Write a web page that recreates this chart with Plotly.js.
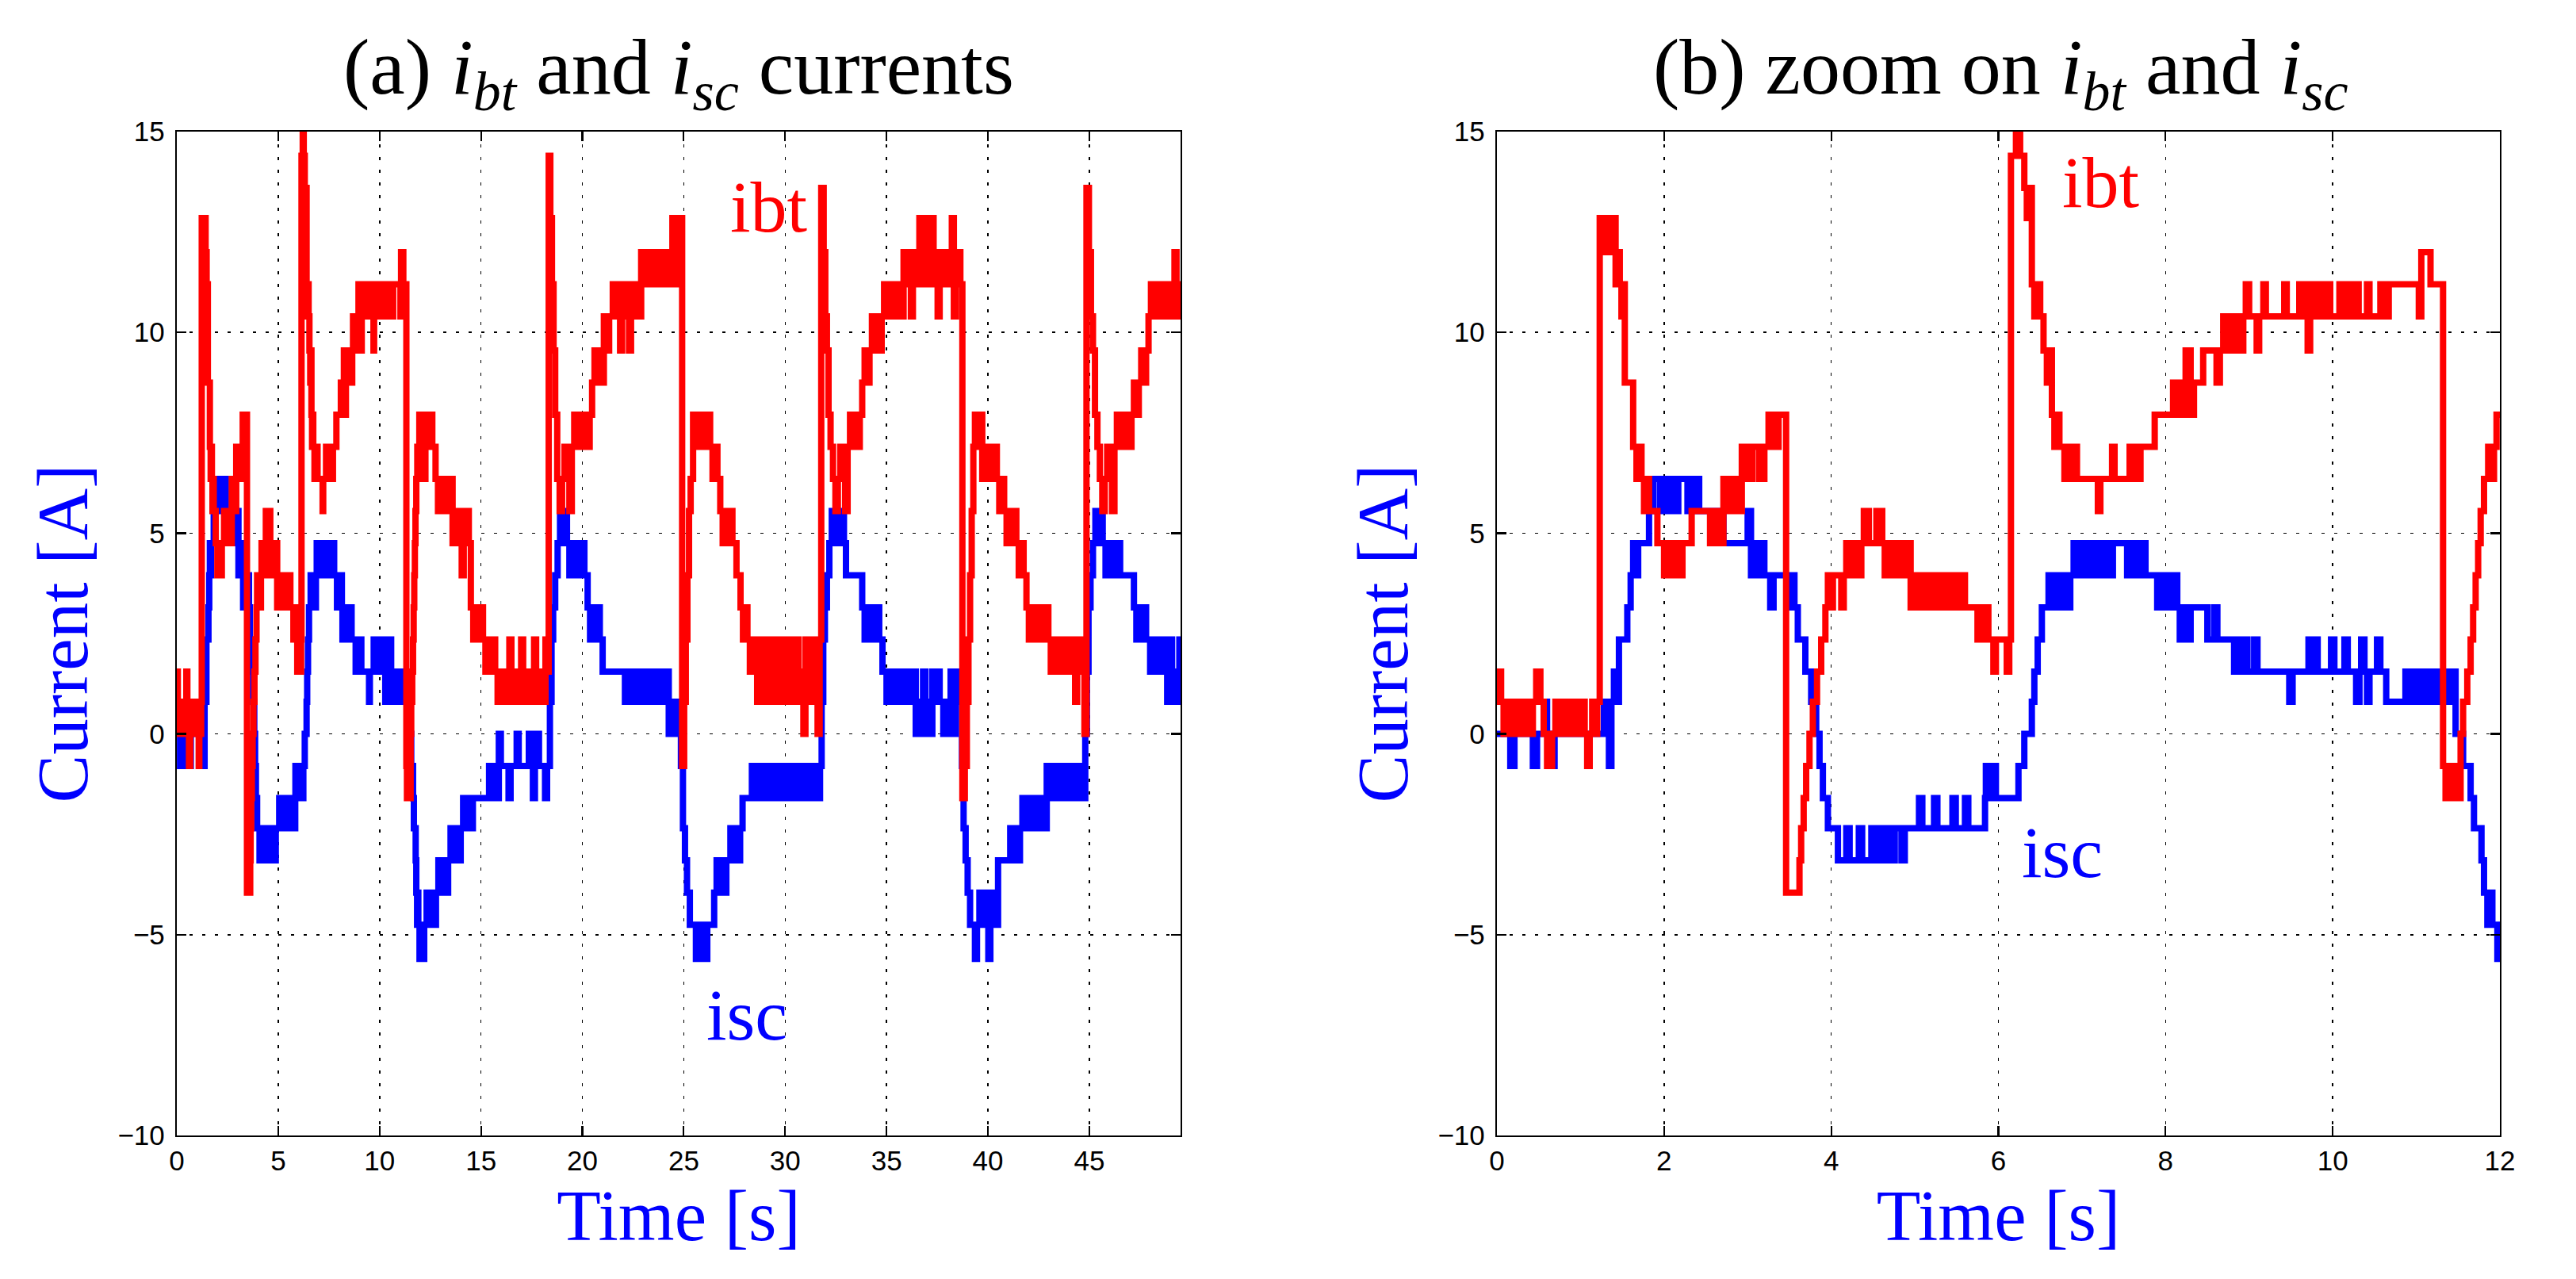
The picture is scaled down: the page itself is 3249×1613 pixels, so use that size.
<!DOCTYPE html>
<html><head><meta charset="utf-8">
<script src="https://cdn.plot.ly/plotly-3.0.1.min.js"></script>
<style>html,body{margin:0;padding:0;background:#fff}#chart{width:3249px;height:1613px}</style>
</head><body><div id="chart"></div>
<script>
// battery current ibt: [time s, current A] change points
const ibtSteps = [
[0,0.8],[0.02,1.55],[0.05,0.8],[0.08,0],[0.11,0.8],[0.15,0],[0.19,0.8],[0.23,0],[0.27,0.8],[0.31,0],[0.35,0.8],[0.39,0],[0.43,0.8],[0.47,1.55],[0.52,0.8],[0.56,0],[0.6,-0.8],[0.66,0],[0.7,0.8],[0.73,0],[0.77,0.8],[0.81,0],[0.85,0.8],[0.89,0],[0.93,0.8],[0.97,0],[1.01,0.8],[1.05,0],[1.08,-0.8],[1.11,0],[1.14,0.8],[1.17,0],[1.2,0.8],
[1.23,12.85],[1.27,12.0],[1.3,12.85],[1.34,12.0],[1.37,12.85],[1.42,11.2],[1.44,12.0],[1.47,11.2],[1.49,10.4],[1.51,11.2],[1.53,8.75],[1.63,7.15],[1.67,6.35],[1.7,7.15],[1.73,6.35],[1.76,5.55],[1.79,6.35],[1.82,5.55],[1.92,4.75],[2.0,3.95],[2.03,4.75],[2.06,3.95],[2.09,4.75],[2.12,3.95],[2.15,4.75],[2.18,3.95],[2.22,4.75],[2.33,5.55],[2.55,4.75],[2.58,5.55],[2.61,4.75],[2.64,5.55],[2.67,4.75],[2.71,6.35],[2.75,5.55],[2.79,6.35],[2.83,5.55],[2.87,6.35],[2.9,5.55],[2.93,7.15],[2.96,6.35],[3.0,7.15],[3.03,6.35],[3.06,7.15],[3.14,6.35],[3.2,7.15],[3.25,7.95],[3.28,7.15],[3.31,7.95],[3.34,7.15],[3.37,7.95],
[3.46,-3.95],[3.62,-3.15],[3.64,-2.35],[3.67,-1.6],[3.7,-0.8],[3.74,0],[3.78,0.8],[3.83,1.55],[3.88,2.35],[3.93,3.15],[3.96,3.95],[3.99,3.15],[4.02,3.95],[4.12,3.15],[4.15,3.95],[4.18,4.75],[4.21,3.95],[4.24,4.75],[4.27,3.95],[4.3,4.75],[4.33,3.95],[4.36,4.75],[4.39,5.55],[4.45,4.75],[4.54,5.55],[4.61,4.75],[4.64,3.95],[4.67,4.75],[4.71,3.95],[4.74,4.75],[4.78,3.95],[4.82,4.75],[4.87,3.95],[4.91,4.75],[4.95,3.15],[4.99,3.95],[5.03,3.15],[5.07,3.95],[5.11,3.15],[5.15,3.95],[5.19,3.15],[5.23,3.95],[5.27,3.15],[5.31,3.95],[5.35,3.15],[5.39,3.95],[5.43,3.15],[5.47,3.95],[5.51,3.15],[5.55,3.95],[5.6,3.15],[5.75,2.35],[5.78,3.15],[5.82,2.35],[5.85,3.15],[5.88,2.35],[5.94,1.55],[5.97,2.35],[6.1,1.55],[6.13,2.35],
[6.15,14.4],[6.21,15.0],[6.26,14.4],[6.31,13.6],[6.34,12.85],[6.37,13.6],[6.4,11.2],[6.43,10.4],[6.46,11.2],[6.5,10.4],[6.54,9.55],[6.58,8.75],[6.61,9.55],[6.64,7.95],[6.67,7.15],[6.7,7.95],[6.73,7.15],[6.79,6.35],[6.82,7.15],[6.88,6.35],[6.91,7.15],[6.94,6.35],[7.19,5.55],[7.22,6.35],[7.36,7.15],[7.39,6.35],[7.57,7.15],[7.6,6.35],[7.63,7.15],[7.66,6.35],[7.7,7.15],[7.87,7.95],
[8.09,8.75],[8.13,7.95],[8.17,8.75],[8.21,7.95],[8.24,9.55],[8.3,7.95],[8.34,8.75],[8.45,9.55],[8.61,8.75],[8.65,9.55],[8.69,10.4],[8.73,9.55],[8.77,10.4],[8.81,9.55],[8.85,10.4],[8.89,9.55],[8.93,10.4],[8.96,11.2],[9.0,10.4],[9.09,9.55],[9.12,10.4],[9.17,11.2],[9.2,10.4],[9.42,11.2],[9.45,10.4],[9.6,11.2],[9.63,10.4],[9.66,11.2],[9.7,9.55],[9.73,10.4],[9.76,11.2],[9.79,10.4],[9.82,11.2],[9.85,10.4],[9.88,11.2],[9.91,10.4],[9.94,11.2],[9.97,10.4],[10.08,11.2],[10.11,10.4],[10.15,11.2],[10.18,10.4],[10.22,11.2],[10.25,10.4],[10.28,11.2],[10.31,10.4],[10.41,11.2],[10.44,10.4],[10.57,11.2],[10.6,10.4],[10.67,11.2],[11.03,10.4],[11.06,12.0],[11.17,11.2],
[11.32,-0.8],[11.35,-1.6],[11.39,-0.8],[11.42,-1.6],[11.46,-0.8],[11.49,-1.6],[11.53,0],[11.56,0.8],[11.61,1.55],[11.65,2.35],[11.68,3.15],[11.71,3.95],[11.74,4.75],[11.77,5.55],[11.81,6.35],[11.86,7.15],[11.9,6.35],[11.93,7.15],[11.96,7.95],
[12.08,7.15],[12.18,6.35],[12.26,7.95],[12.36,7.15],[12.5,7.95],[12.6,7.15],[12.76,6.35],[12.88,5.55],[13.0,6.35],[13.12,5.55],[13.24,6.35],[13.36,5.55],[13.5,6.35],[13.6,4.75],[13.72,5.55],[13.84,4.75],[13.96,5.55],[14.05,3.95],[14.15,4.75],[14.3,5.55],[14.4,4.75],[14.5,3.15],[14.62,2.35],[14.74,3.15],[14.86,2.35],[14.98,3.15],[15.1,2.35],[15.22,1.55],[15.34,2.35],[15.46,1.55],[15.58,2.35],[15.7,1.55],[15.82,0.8],[15.94,1.55],[16.06,0.8],[16.18,1.55],[16.3,0.8],[16.4,2.35],[16.5,1.55],[16.62,0.8],[16.74,1.55],[16.86,0.8],[16.98,2.35],[17.08,1.55],[17.2,0.8],[17.32,1.55],[17.44,0.8],[17.56,1.55],[17.62,2.35],[17.72,1.55],[17.84,0.8],[17.96,1.55],[18.08,0.8],[18.18,2.35],[18.26,1.55],
[18.34,14.4],[18.42,12.85],[18.5,11.2],[18.58,9.55],[18.66,7.95],[18.76,6.35],[18.88,5.55],[19.0,6.35],[19.12,7.15],[19.24,6.35],[19.36,5.55],[19.48,7.15],[19.6,7.95],[19.72,7.15],[19.84,7.95],[19.96,7.15],[20.1,7.95],[20.22,7.15],[20.36,7.95],[20.48,8.75],[20.6,9.55],[20.72,8.75],[20.84,9.55],[20.96,8.75],[21.06,10.4],[21.2,9.55],[21.32,10.4],[21.5,11.2],[21.62,10.4],[21.74,11.2],[21.86,9.55],[21.96,10.4],[22.08,11.2],[22.2,10.4],[22.3,9.55],[22.4,11.2],[22.52,10.4],[22.64,11.2],[22.76,10.4],[22.9,12.0],[23.0,11.2],[23.12,12.0],[23.24,11.2],[23.36,12.0],[23.48,11.2],[23.6,12.0],[23.72,11.2],[23.84,12.0],[23.96,11.2],[24.08,12.0],[24.2,11.2],[24.32,12.0],[24.44,12.85],[24.54,11.2],[24.64,12.85],[24.74,12.0],[24.84,12.85],
[24.92,-0.8],[25.02,0.8],[25.1,2.35],[25.18,3.95],[25.26,5.55],[25.34,6.35],[25.46,7.95],[25.58,7.15],[25.7,7.95],[25.82,7.15],[25.94,7.95],[26.06,7.15],[26.18,7.95],[26.3,7.15],[26.42,6.35],[26.54,7.15],[26.66,6.35],[26.8,5.55],[26.92,4.75],[27.04,5.55],[27.16,4.75],[27.28,5.55],[27.4,4.75],[27.6,3.95],[27.8,3.15],[27.92,2.35],[28.04,3.15],[28.14,2.35],[28.26,1.55],[28.38,2.35],[28.5,1.55],[28.62,0.8],[28.74,2.35],[28.86,1.55],[28.98,0.8],[29.1,2.35],[29.22,1.55],[29.34,0.8],[29.46,2.35],[29.58,1.55],[29.7,0.8],[29.82,2.35],[29.94,1.55],[30.06,0.8],[30.18,2.35],[30.3,1.55],[30.42,0.8],[30.54,2.35],[30.66,1.55],[30.78,0.8],[30.9,0],[31.0,2.35],[31.12,1.55],[31.24,0.8],[31.36,2.35],[31.48,1.55],[31.6,0],[31.7,2.35],
[31.78,13.6],[31.9,12.0],[31.98,10.4],[32.06,9.55],[32.14,7.95],[32.24,7.15],[32.36,6.35],[32.48,5.55],[32.6,6.35],[32.72,7.15],[32.84,6.35],[32.96,5.55],[33.08,7.15],[33.2,7.95],[33.32,7.15],[33.44,7.95],[33.56,7.15],[33.68,7.95],[33.8,8.75],[33.92,9.55],[34.04,8.75],[34.16,9.55],[34.28,10.4],[34.4,9.55],[34.52,10.4],[34.64,9.55],[34.76,10.4],[34.88,11.2],[35.0,10.4],[35.12,11.2],[35.24,10.4],[35.36,11.2],[35.48,10.4],[35.6,11.2],[35.72,10.4],[35.84,12.0],[35.96,11.2],[36.08,12.0],[36.2,10.4],[36.3,11.2],[36.42,12.0],[36.54,11.2],[36.62,12.85],[36.72,11.2],[36.82,12.85],[36.92,12.0],[37.02,12.85],[37.12,11.2],[37.22,12.85],[37.32,12.0],[37.44,11.2],[37.52,10.4],[37.62,11.2],[37.74,12.0],[37.86,11.2],[37.98,12.0],[38.1,11.2],[38.22,12.85],[38.32,10.4],[38.42,11.2],[38.54,12.0],[38.64,11.2],
[38.74,-1.6],[38.86,-0.8],[38.96,0.8],[39.04,2.35],[39.12,3.95],[39.2,5.55],[39.28,7.15],[39.36,7.95],[39.48,7.15],[39.6,7.95],[39.72,6.35],[39.84,7.15],[39.96,6.35],[40.08,7.15],[40.2,6.35],[40.32,7.15],[40.44,6.35],[40.56,5.55],[40.68,6.35],[40.8,5.55],[40.92,4.75],[41.04,5.55],[41.16,4.75],[41.28,5.55],[41.4,4.75],[41.52,3.95],[41.64,4.75],[41.76,3.95],[41.9,3.15],[42.02,2.35],[42.14,3.15],[42.26,2.35],[42.38,3.15],[42.5,2.35],[42.62,3.15],[42.74,2.35],[42.86,3.15],[42.98,2.35],[43.1,1.55],[43.22,2.35],[43.34,1.55],[43.46,2.35],[43.58,1.55],[43.7,2.35],[43.82,1.55],[43.94,2.35],[44.06,1.55],[44.18,2.35],[44.3,0.8],[44.4,1.55],[44.52,2.35],[44.64,1.55],[44.76,0],
[44.86,13.6],[44.98,12.0],[45.08,10.4],[45.18,9.55],[45.28,7.95],[45.4,7.15],[45.52,6.35],[45.64,5.55],[45.76,6.35],[45.88,7.15],[46.0,6.35],[46.12,5.55],[46.24,7.15],[46.36,7.95],[46.48,7.15],[46.6,7.95],[46.72,7.15],[46.84,7.95],[46.96,7.15],[47.08,7.95],[47.2,8.75],[47.32,7.95],[47.44,8.75],[47.56,9.55],[47.68,8.75],[47.8,9.55],[47.92,10.4],[48.04,11.2],[48.16,10.4],[48.28,11.2],[48.4,10.4],[48.52,11.2],[48.64,10.4],[48.76,11.2],[48.88,10.4],[49.0,11.2],[49.12,10.4],[49.2,12.0],[49.3,11.2],[49.42,10.4],[49.5,11.2]
];

// supercapacitor current isc: [time s, current A] change points
const iscSteps = [
[0,0],[0.16,-0.8],[0.21,0],[0.43,-0.8],[0.48,0],[0.56,0.8],[0.6,0],[0.63,-0.8],[0.69,0],[1.28,0.8],[1.31,0],[1.34,-0.8],[1.37,0.8],[1.4,1.55],[1.43,0.8],[1.46,2.35],[1.56,3.15],[1.6,3.95],[1.63,4.75],[1.66,3.95],[1.69,4.75],[1.82,5.55],[1.87,6.35],[1.95,5.55],[2.01,6.35],[2.05,5.55],[2.09,6.35],[2.13,5.55],[2.17,6.35],[2.28,5.55],[2.31,6.35],[2.35,5.55],[2.38,6.35],[2.42,5.55],[2.71,4.75],[3.0,5.55],[3.04,3.95],[3.11,4.75],[3.14,3.95],[3.17,4.75],[3.2,3.95],[3.27,3.15],[3.31,3.95],[3.5,3.15],[3.53,3.95],[3.56,3.15],[3.6,2.35],[3.69,1.55],[3.76,0.8],[3.82,0],[3.86,-0.8],[3.9,-1.6],[3.96,-2.35],
[4.08,-3.15],[4.18,-2.35],[4.22,-3.15],[4.33,-2.35],[4.37,-3.15],[4.48,-2.35],[4.52,-3.15],[4.58,-2.35],[4.62,-3.15],[4.68,-2.35],[4.72,-3.15],[4.76,-2.35],[4.84,-3.15],[4.88,-2.35],[5.05,-1.6],[5.09,-2.35],[5.23,-1.6],[5.27,-2.35],[5.45,-1.6],[5.49,-2.35],[5.6,-1.6],[5.64,-2.35],[5.84,-1.6],[5.85,-0.8],[5.88,-1.6],[5.94,-0.8],[5.97,-1.6],[6.24,-0.8],[6.31,0],[6.4,0.8],[6.43,1.55],[6.47,2.35],[6.52,3.15],[6.6,3.95],[6.66,3.15],[6.7,3.95],[6.74,3.15],[6.78,3.95],[6.82,3.15],[6.86,3.95],[6.9,4.75],[6.94,3.95],[6.97,4.75],[7.0,3.95],[7.03,4.75],[7.06,3.95],[7.09,4.75],[7.13,3.95],[7.16,4.75],[7.2,3.95],[7.23,4.75],[7.27,3.95],[7.3,4.75],[7.34,3.95],[7.37,4.75],[7.54,3.95],[7.57,4.75],[7.61,3.95],[7.64,4.75],[7.68,3.95],[7.71,4.75],[7.76,3.95],
[7.9,3.15],[7.94,3.95],[7.98,3.15],[8.02,3.95],[8.06,3.15],[8.1,3.95],[8.14,3.15],[8.17,2.35],[8.2,3.15],[8.27,2.35],[8.3,3.15],[8.5,2.35],[8.58,3.15],[8.62,2.35],[8.82,1.55],[8.86,2.35],[8.9,1.55],[8.94,2.35],[8.98,1.55],[9.06,2.35],[9.1,1.55],[9.48,0.8],[9.52,1.55],[9.71,2.35],[9.75,1.55],[9.78,2.35],[9.82,1.55],[9.98,2.35],[10.02,1.55],[10.14,2.35],[10.18,1.55],[10.28,0.8],[10.32,1.55],[10.34,2.35],[10.38,1.55],[10.41,0.8],[10.44,1.55],[10.53,2.35],[10.57,1.55],[10.64,0.8],[10.87,1.55],[10.91,0.8],[10.95,1.55],[10.99,0.8],[11.03,1.55],[11.07,0.8],[11.11,1.55],[11.15,0.8],[11.19,1.55],[11.23,0.8],[11.27,1.55],[11.31,0.8],[11.35,1.55],[11.39,0.8],[11.43,1.55],[11.47,0],[11.56,-0.8],[11.65,-1.6],[11.69,-2.35],[11.78,-3.15],[11.81,-3.95],[11.85,-4.75],[11.88,-3.95],[11.91,-4.75],[11.97,-5.6],
[12.04,-4.75],[12.12,-5.6],[12.2,-4.75],[12.32,-3.95],[12.44,-4.75],[12.56,-3.95],[12.68,-4.75],[12.78,-3.95],[12.9,-3.15],[13.02,-3.95],[13.14,-3.15],[13.26,-3.95],[13.38,-3.15],[13.5,-2.35],[13.62,-3.15],[13.74,-2.35],[13.86,-3.15],[14.0,-2.35],[14.12,-1.6],[14.24,-2.35],[14.36,-1.6],[14.48,-2.35],[14.6,-1.6],[15.4,-0.8],[15.52,-1.6],[15.64,-0.8],[15.76,-1.6],[15.88,0],[15.98,-0.8],[16.36,-1.6],[16.46,-0.8],[16.76,0],[16.86,-0.8],[17.36,0],[17.46,-0.8],[17.56,-1.6],[17.66,-0.8],[17.76,0],[17.86,-0.8],[18.16,-1.6],[18.26,-0.8],
[18.4,0.8],[18.48,2.35],[18.56,3.15],[18.66,3.95],[18.78,4.75],[18.9,5.55],[19.02,4.75],[19.14,5.55],[19.24,4.75],[19.36,3.95],[19.48,4.75],[19.6,3.95],[19.72,4.75],[19.84,3.95],[19.96,4.75],[20.1,3.95],[20.26,3.15],[20.38,2.35],[20.5,3.15],[20.62,2.35],[20.74,3.15],[20.86,2.35],[21.0,1.55],[22.1,0.8],[22.22,1.55],[22.34,0.8],[22.46,1.55],[22.58,0.8],[22.7,1.55],[22.82,0.8],[22.94,1.55],[23.06,0.8],[23.18,1.55],[23.3,0.8],[23.42,1.55],[23.54,0.8],[23.66,1.55],[23.78,0.8],[23.9,1.55],[24.02,0.8],[24.14,1.55],[24.26,0],[24.38,0.8],[24.5,0],[24.62,0.8],[24.74,0],[24.86,-0.8],
[24.96,-2.35],[25.06,-3.15],[25.16,-3.95],[25.3,-4.75],[25.6,-5.6],[25.72,-4.75],[25.84,-5.6],[25.96,-4.75],[26.08,-5.6],[26.16,-4.75],[26.5,-3.95],[26.62,-3.15],[26.74,-3.95],[26.86,-3.15],[26.98,-3.95],[27.1,-3.15],[27.3,-2.35],[27.42,-3.15],[27.54,-2.35],[27.66,-3.15],[27.78,-2.35],[27.9,-1.6],[28.36,-0.8],[28.48,-1.6],[28.6,-0.8],[28.72,-1.6],[28.84,-0.8],[28.96,-1.6],[29.08,-0.8],[29.2,-1.6],[29.32,-0.8],[29.44,-1.6],[29.56,-0.8],[29.68,-1.6],[29.8,-0.8],[29.92,-1.6],[30.04,-0.8],[30.16,-1.6],[30.28,-0.8],[30.4,-1.6],[30.52,-0.8],[30.64,-1.6],[30.76,-0.8],[30.88,-1.6],[31.0,-0.8],[31.12,-1.6],[31.24,-0.8],[31.36,-1.6],[31.48,-0.8],[31.6,-1.6],[31.72,-0.8],
[31.8,0.8],[31.88,2.35],[31.96,3.15],[32.06,3.95],[32.18,4.75],[32.3,5.55],[32.42,4.75],[32.54,5.55],[32.66,4.75],[32.78,5.55],[32.9,4.75],[33.0,3.95],[33.8,3.15],[33.92,2.35],[34.04,3.15],[34.16,2.35],[34.28,3.15],[34.4,2.35],[34.52,3.15],[34.64,2.35],[34.8,1.55],[35.0,0.8],[35.12,1.55],[35.24,0.8],[35.36,1.55],[35.48,0.8],[35.6,1.55],[35.72,0.8],[35.84,1.55],[35.96,0.8],[36.08,1.55],[36.2,0.8],[36.32,1.55],[36.44,0],[36.56,0.8],[36.68,0],[36.8,1.55],[36.92,0],[37.04,0.8],[37.16,0],[37.26,1.55],[37.38,0.8],[37.5,1.55],[37.62,0.8],[37.8,0],[37.92,0.8],[38.04,0],[38.16,1.55],[38.28,0],[38.4,0.8],[38.52,1.55],[38.64,0.8],
[38.72,-0.8],[38.8,-2.35],[38.9,-3.15],[39.0,-3.95],[39.12,-4.75],[39.36,-5.6],[39.46,-4.75],[39.58,-3.95],[39.7,-4.75],[39.82,-3.95],[39.94,-4.75],[40.02,-5.6],[40.12,-4.75],[40.24,-3.95],[40.36,-4.75],[40.5,-3.15],[41.1,-2.35],[41.22,-3.15],[41.34,-2.35],[41.46,-3.15],[41.58,-2.35],[41.7,-1.6],[41.82,-2.35],[41.94,-1.6],[42.06,-2.35],[42.18,-1.6],[42.3,-2.35],[42.42,-1.6],[42.54,-2.35],[42.66,-1.6],[42.78,-2.35],[42.9,-0.8],[43.02,-1.6],[43.14,-0.8],[43.26,-1.6],[43.38,-0.8],[43.5,-1.6],[43.62,-0.8],[43.74,-1.6],[43.86,-0.8],[43.98,-1.6],[44.1,-0.8],[44.22,-1.6],[44.34,-0.8],[44.46,-1.6],[44.58,-0.8],[44.7,-1.6],
[44.8,0],[44.88,1.55],[44.96,3.15],[45.06,3.95],[45.18,4.75],[45.3,5.55],[45.42,4.75],[45.54,5.55],[45.66,4.75],[45.8,3.95],[45.92,4.75],[46.04,3.95],[46.16,4.75],[46.28,3.95],[46.4,4.75],[46.52,3.95],[47.2,3.15],[47.32,2.35],[47.44,3.15],[47.56,2.35],[47.68,3.15],[47.8,2.35],[48.0,1.55],[48.12,2.35],[48.24,1.55],[48.36,2.35],[48.48,1.55],[48.6,2.35],[48.72,1.55],[48.84,0.8],[48.96,2.35],[49.08,0.8],[49.2,1.55],[49.32,0.8],[49.44,2.35],[49.5,1.55]
];

const xTicksA = [0,5,10,15,20,25,30,35,40,45];
const xTicksB = [0,2,4,6,8,10,12];
const yTicks = [-10,-5,0,5,10,15];
const titleA = '(a) <i>i</i><sub><i>bt</i></sub> and <i>i</i><sub><i>sc</i></sub> currents';
const titleB = '(b) zoom on <i>i</i><sub><i>bt</i></sub> and <i>i</i><sub><i>sc</i></sub>';
const xLabel = 'Time [s]';
const yLabel = 'Current [A]';
const ibtName = 'ibt';
const iscName = 'isc';

const RED = '#ff0000', BLUE = '#0000ff';
const SERIF = 'Liberation Serif, Times New Roman, serif';
const SANS = 'Liberation Sans, Arial, Helvetica, sans-serif';

function xs(s){ return s.map(p => p[0]); }
function ys(s){ return s.map(p => p[1]); }

function tr(steps, color, xa, ya){
  return {x: xs(steps), y: ys(steps), xaxis: xa, yaxis: ya, type: 'scatter', mode: 'lines',
    line: {color: color, width: 8, shape: 'hv'}, hoverinfo: 'skip', showlegend: false};
}

function ax(extra){
  return Object.assign({
    showline: true, linecolor: '#000', linewidth: 2.2, mirror: 'ticks',
    ticks: 'inside', ticklen: 12, tickwidth: 2.2, tickcolor: '#000',
    showgrid: true, gridcolor: '#000', gridwidth: 1.5, griddash: '4px,12px',
    zeroline: false, fixedrange: true, automargin: false,
    tickfont: {family: SANS, size: 35, color: '#000'}
  }, extra);
}
const yTickText = yTicks.map(v => v < 0 ? '\u2212' + Math.abs(v) : String(v));
const xTitle = {text: xLabel, font: {family: SERIF, size: 91, color: BLUE}, standoff: 18};
const yTitle = {text: yLabel, font: {family: SERIF, size: 91, color: BLUE}, standoff: 8};

const W = 3249, H = 1613;
const dA = [223/W, 1489/W], dB = [1888/W, 3153/W], dY = [1 - 1432/H, 1 - 166/H];

const data = [
  tr(iscSteps, BLUE, 'x', 'y'), tr(ibtSteps, RED, 'x', 'y'),
  tr(iscSteps, BLUE, 'x2', 'y2'), tr(ibtSteps, RED, 'x2', 'y2')
];

function ann(text, x, y, size, color, extra){
  return Object.assign({text: text, x: x, y: y, xref: 'paper', yref: 'paper', showarrow: false,
    xanchor: 'center', yanchor: 'middle', font: {family: SERIF, size: size, color: color}}, extra || {});
}

const layout = {
  width: W, height: H, margin: {l: 0, r: 0, t: 0, b: 0},
  paper_bgcolor: '#fff', plot_bgcolor: '#fff', showlegend: false,
  xaxis: ax({domain: dA, anchor: 'y', range: [0, 49.5], tickvals: xTicksA, ticktext: xTicksA.map(String), title: xTitle}),
  yaxis: ax({domain: dY, anchor: 'x', range: [-10, 15], tickvals: yTicks, ticktext: yTickText, ticklabelstandoff: 6, title: yTitle}),
  xaxis2: ax({domain: dB, anchor: 'y2', range: [0, 12], tickvals: xTicksB, ticktext: xTicksB.map(String), title: xTitle}),
  yaxis2: ax({domain: dY, anchor: 'x2', range: [-10, 15], tickvals: yTicks, ticktext: yTickText, ticklabelstandoff: 6, title: yTitle}),
  annotations: [
    ann(titleA, 856/W, 1 - 92/H, 100, '#000'),
    ann(titleB, 2523/W, 1 - 92/H, 100, '#000'),
    ann(ibtName, 29.2, 13.12, 92, RED, {xref: 'x', yref: 'y'}),
    ann(iscName, 28.1, -7.0, 92, BLUE, {xref: 'x', yref: 'y'}),
    ann(ibtName, 7.23, 13.74, 92, RED, {xref: 'x2', yref: 'y2'}),
    ann(iscName, 6.76, -2.95, 92, BLUE, {xref: 'x2', yref: 'y2'})
  ]
};

Plotly.newPlot('chart', data, layout, {displayModeBar: false, staticPlot: true});
</script>
</body></html>
